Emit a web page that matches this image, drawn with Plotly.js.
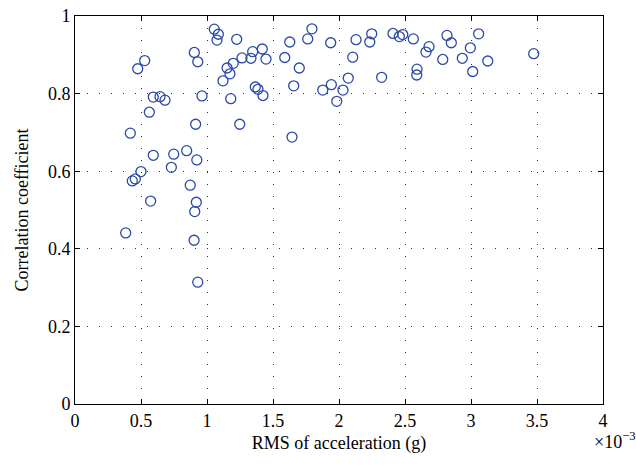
<!DOCTYPE html>
<html><head><meta charset="utf-8">
<script src="https://cdn.plot.ly/plotly-3.0.1.min.js"></script>
<style>body{margin:0;padding:0;background:#fff}</style>
</head><body>
<div id="chart" style="width:636px;height:465px"></div>
<script>
// RMS of acceleration in units of 1e-3 g
var rmsAcc = [1.055,1.086,1.076,1.225,0.904,0.930,0.528,0.475,1.265,1.199,1.152,1.174,1.121,0.593,0.644,0.682,0.962,1.180,0.563,0.914,1.248,0.419,0.593,0.748,0.846,0.923,0.730,0.500,0.457,0.434,0.873,0.573,0.919,0.907,0.384,0.902,0.930,1.795,1.763,1.627,1.937,2.129,2.248,2.233,2.409,2.457,2.483,2.563,1.346,1.419,1.333,1.447,1.589,1.699,2.104,1.366,1.386,1.424,1.657,1.877,1.942,2.030,2.070,1.983,2.323,1.644,2.818,2.851,2.682,2.659,3.058,2.995,2.786,2.934,3.127,3.013,3.475,2.591,2.589];
var corrCoef = [0.966,0.953,0.938,0.940,0.906,0.882,0.885,0.864,0.892,0.878,0.866,0.851,0.833,0.791,0.792,0.783,0.794,0.787,0.752,0.721,0.721,0.698,0.641,0.644,0.653,0.629,0.610,0.599,0.580,0.575,0.564,0.523,0.520,0.496,0.441,0.422,0.314,0.967,0.941,0.933,0.931,0.939,0.954,0.933,0.955,0.947,0.952,0.941,0.908,0.915,0.891,0.889,0.893,0.866,0.894,0.817,0.811,0.795,0.820,0.809,0.823,0.809,0.840,0.780,0.842,0.688,0.950,0.931,0.921,0.907,0.954,0.918,0.888,0.891,0.884,0.857,0.903,0.863,0.848];
var xTicks = [0,0.5,1,1.5,2,2.5,3,3.5,4];
var xTickText = ['0','0.5','1','1.5','2','2.5','3','3.5','4'];
var yTicks = [0,0.2,0.4,0.6,0.8,1];
var yTickText = ['0','0.2','0.4','0.6','0.8','1'];

var fnt = {family:'Liberation Serif, Times New Roman, serif', size:18, color:'#000'};
var trace = {
  x: rmsAcc, y: corrCoef, mode:'markers', type:'scatter',
  marker:{symbol:'circle-open', size:10, color:'#2b4aa8', line:{width:1.3, color:'#2b4aa8'}},
  hoverinfo:'skip'
};
var axCommon = {
  showline:true, linecolor:'#000', linewidth:1, mirror:'ticks',
  ticks:'inside', ticklen:5, tickcolor:'#000', tickwidth:1,
  showgrid:true, gridcolor:'#333', griddash:'1.2px,10.8px', gridwidth:1,
  zeroline:false, tickfont:fnt
};
var layout = {
  width:636, height:465,
  margin:{l:75, r:33, t:16, b:61},
  paper_bgcolor:'#fff', plot_bgcolor:'#fff',
  showlegend:false,
  xaxis: Object.assign({}, axCommon, {
    range:[0,4], tickvals:xTicks, ticktext:xTickText,
    title:{text:'RMS of acceleration (g)', font:fnt, standoff:6}
  }),
  yaxis: Object.assign({}, axCommon, {
    range:[0,1], tickvals:yTicks, ticktext:yTickText,
    title:{text:'Correlation coefficient', font:fnt, standoff:14}
  }),
  annotations:[{
    text:'×10<sup>−3</sup>', xref:'paper', yref:'paper', x:1.064, y:-0.093,
    xanchor:'right', yanchor:'middle', showarrow:false, font:fnt, borderpad:0
  }]
};
Plotly.newPlot('chart', [trace], layout, {displayModeBar:false, staticPlot:true});
</script>
</body></html>
